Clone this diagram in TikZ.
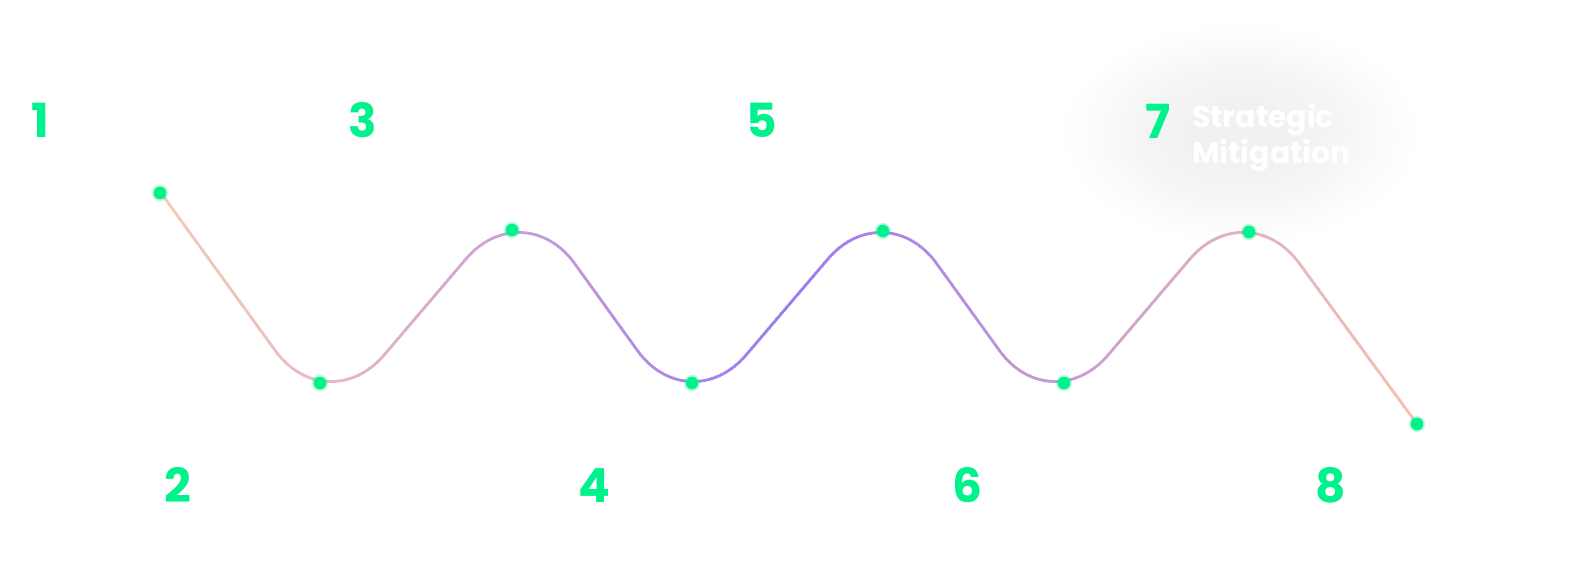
\documentclass[tikz,border=0pt]{standalone}
\usepackage{fontspec}
\setmainfont{Poppins}
\definecolor{dotgreen}{HTML}{00F28C}
\definecolor{numgreen}{HTML}{00F28C}
\definecolor{blobc}{HTML}{F1F1F1}
\definecolor{blobm}{HTML}{F5F5F5}
\definecolor{blobo}{HTML}{FBFBFB}
\definecolor{wa}{HTML}{F6CCBA}
\definecolor{wb}{HTML}{E9B8C0}
\definecolor{wc}{HTML}{C99FD6}
\definecolor{wd}{HTML}{AA85E8}
\definecolor{we}{HTML}{9C7BF3}
\definecolor{wf}{HTML}{A886E8}
\definecolor{wg}{HTML}{C69CD2}
\definecolor{wh}{HTML}{E2B2BF}
\definecolor{wi}{HTML}{F5C2B0}
\pgfdeclareradialshading{blobshade}{\pgfpoint{0bp}{0bp}}{color(0bp)=(blobc); color(7bp)=(blobc); color(14bp)=(blobm); color(20bp)=(blobo); color(25bp)=(white); color(50bp)=(white)}
\begin{document}
\begin{tikzpicture}[x=1pt, y=-1pt,
  num/.style={font=\fontsize{47}{47}\selectfont\bfseries, text=numgreen, anchor=base, inner sep=0pt},
  captxt/.style={font=\fontsize{30}{36}\selectfont\bfseries, text=white, anchor=base west, inner sep=0pt},
  gdot/.style={circle, inner sep=0pt, minimum size=12.5pt, fill=dotgreen,
    preaction={draw=dotgreen, draw opacity=0.3, line width=3.5pt}},
  wavestroke/.style={line width=2.8pt, rounded corners=88pt},
  wavepath/.style={insert path={(161,193) -- (327,422) -- (523,192) -- (689,422) -- (885,192)
      -- (1051,422) -- (1247,192) -- (1417,424)}}]
\useasboundingbox[fill=white] (0,0) rectangle (1578,576);
% soft grey blob
\shade[shading=blobshade] (1240,133) ellipse [x radius=180pt, y radius=112pt];
% gradient wave, drawn in narrow vertical stripes
\foreach \xa/\xb/\ca/\cb in {150/330/wa/wb, 330/520/wb/wc, 520/690/wc/wd, 690/790/wd/we,
    790/885/we/wf, 885/1055/wf/wg, 1055/1245/wg/wh, 1245/1430/wh/wi} {
  \foreach \k in {0,...,19} {
    \pgfmathsetmacro\xl{\xa+(\xb-\xa)*\k/20}
    \pgfmathsetmacro\xr{\xa+(\xb-\xa)*(\k+1)/20+0.8}
    \pgfmathtruncatemacro\pc{100*(\k+0.5)/20}
    \begin{scope}
      \clip (\xl,150) rectangle (\xr,460);
      \draw[wavestroke, color=\cb!\pc!\ca, wavepath];
    \end{scope}
  }
}
% dots
\node[gdot] (d1) at (160,193) {};
\node[gdot] (d2) at (320,383) {};
\node[gdot] (d3) at (512,230) {};
\node[gdot] (d4) at (692,383) {};
\node[gdot] (d5) at (883,231) {};
\node[gdot] (d6) at (1064,383) {};
\node[gdot] (d7) at (1249,232) {};
\node[gdot] (d8) at (1417,424) {};
% numbers
\node[num] (n1) at (40,137) {1};
\node[num] (n3) at (363,137) {3};
\node[num] (n5) at (762,137) {5};
\node[num] (n7) at (1158,138) {7};
\node[num] (n2) at (178,502) {2};
\node[num] (n4) at (594,502) {4};
\node[num] (n6) at (967,502) {6};
\node[num] (n8) at (1331,502) {8};
% caption
\node[captxt] (s1) at (1192,127) {Strategic};
\node[captxt] (s2) at (1192,163) {Mitigation};
\end{tikzpicture}
\end{document}
